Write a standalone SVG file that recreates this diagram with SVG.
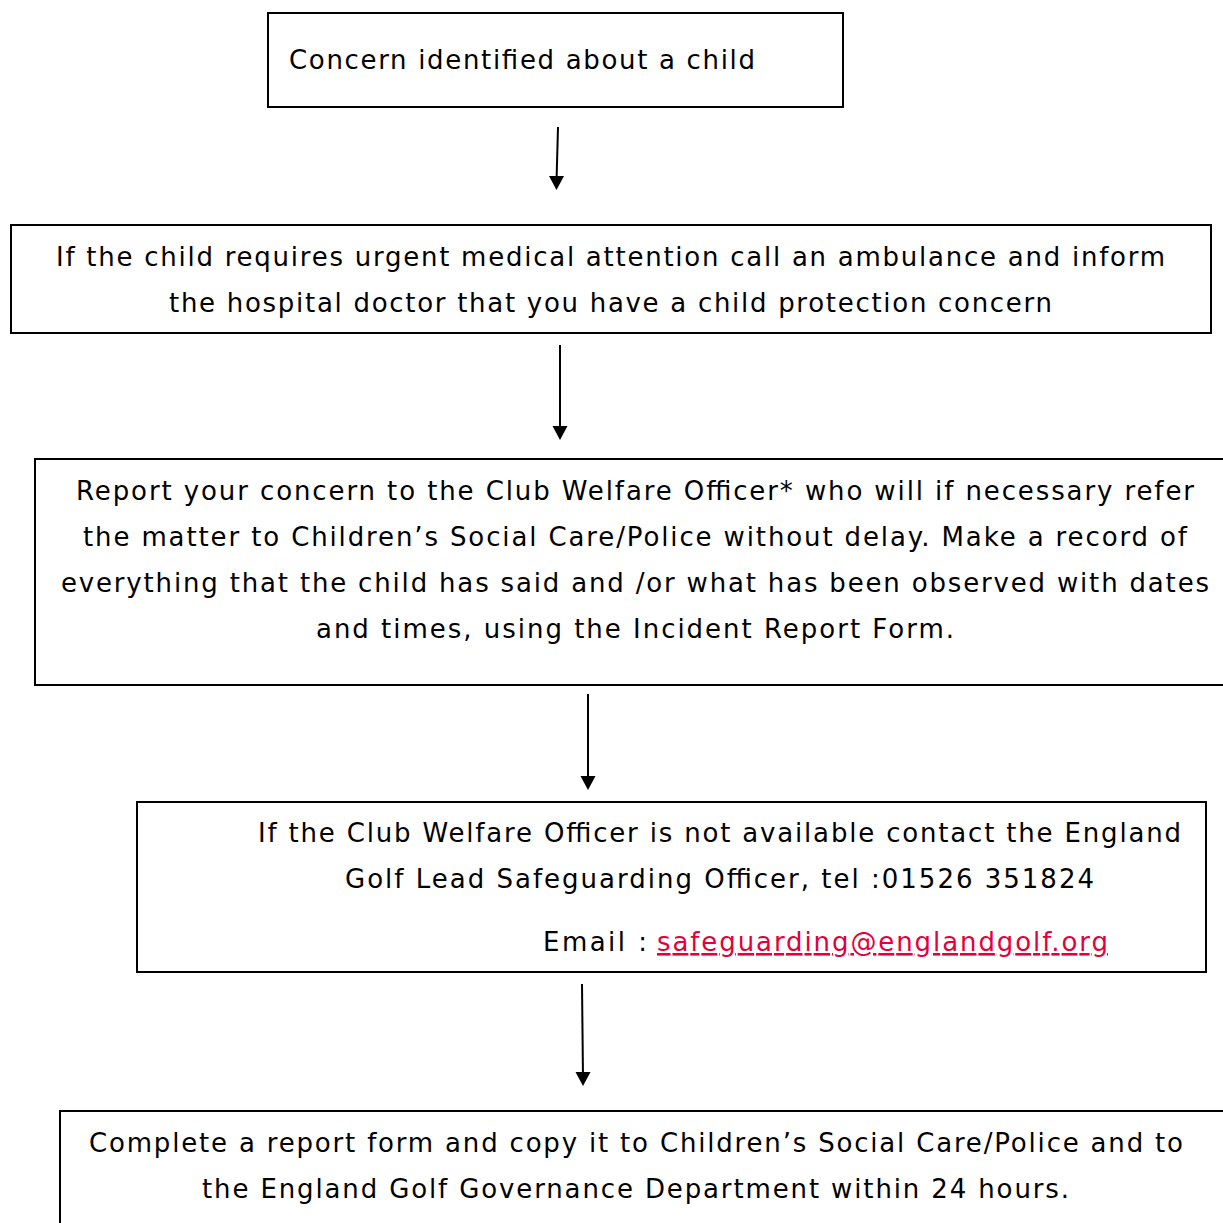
<svg xmlns="http://www.w3.org/2000/svg" width="1223" height="1223" viewBox="0 0 1223 1223">
<defs>
<style>
.box{fill:#fff;stroke:#000;stroke-width:2}
.t{font-family:"DejaVu Sans","Verdana",sans-serif;font-size:26px;fill:#000}
.link{fill:#E4003B;text-decoration:underline}
.conn{stroke:#000;stroke-width:2;fill:none}
</style>
</defs>
<rect width="1223" height="1223" fill="#fff"/>
<g id="connectors">
<path class="conn" d="M558,127 L556.5,182"/>
<polygon points="549,176 564,176 556.5,190" fill="#000"/>
<path class="conn" d="M560,345 L560,432"/>
<polygon points="552.5,426 567.5,426 560,440" fill="#000"/>
<path class="conn" d="M588,694 L588,782"/>
<polygon points="580.5,776 595.5,776 588,790" fill="#000"/>
<path class="conn" d="M582,984 L583,1078"/>
<polygon points="575.5,1072 590.5,1072 583,1086" fill="#000"/>
</g>
<g id="node1">
<rect class="box" x="268" y="13" width="575" height="94"/>
<text class="t" x="289" y="69" textLength="466" lengthAdjust="spacing">Concern identified about a child</text>
</g>
<g id="node2">
<rect class="box" x="11" y="225" width="1200" height="108"/>
<text class="t" x="56" y="266" textLength="1109" lengthAdjust="spacing">If the child requires urgent medical attention call an ambulance and inform</text>
<text class="t" x="169" y="312" textLength="883" lengthAdjust="spacing">the hospital doctor that you have a child protection concern</text>
</g>
<g id="node3">
<rect class="box" x="35" y="459" width="1200" height="226"/>
<text class="t" x="76" y="500" textLength="1118" lengthAdjust="spacing">Report your concern to the Club Welfare Officer* who will if necessary refer</text>
<text class="t" x="83" y="546" textLength="1104" lengthAdjust="spacing">the matter to Children’s Social Care/Police without delay. Make a record of</text>
<text class="t" x="61" y="592" textLength="1148" lengthAdjust="spacing">everything that the child has said and /or what has been observed with dates</text>
<text class="t" x="316" y="638" textLength="638" lengthAdjust="spacing">and times, using the Incident Report Form.</text>
</g>
<g id="node4">
<rect class="box" x="137" y="802" width="1069" height="170"/>
<text class="t" x="258" y="842" textLength="923" lengthAdjust="spacing">If the Club Welfare Officer is not available contact the England</text>
<text class="t" x="345" y="888" textLength="749" lengthAdjust="spacing">Golf Lead Safeguarding Officer, tel :01526 351824</text>
<text class="t" x="543" y="951" textLength="104" lengthAdjust="spacing">Email :</text>
<text class="t link" x="657" y="951" textLength="451" lengthAdjust="spacing">safeguarding@englandgolf.org</text>
</g>
<g id="node5">
<rect class="box" x="60" y="1111" width="1180" height="140"/>
<text class="t" x="89" y="1152" textLength="1094" lengthAdjust="spacing">Complete a report form and copy it to Children’s Social Care/Police and to</text>
<text class="t" x="202" y="1198" textLength="867" lengthAdjust="spacing">the England Golf Governance Department within 24 hours.</text>
</g>
</svg>
